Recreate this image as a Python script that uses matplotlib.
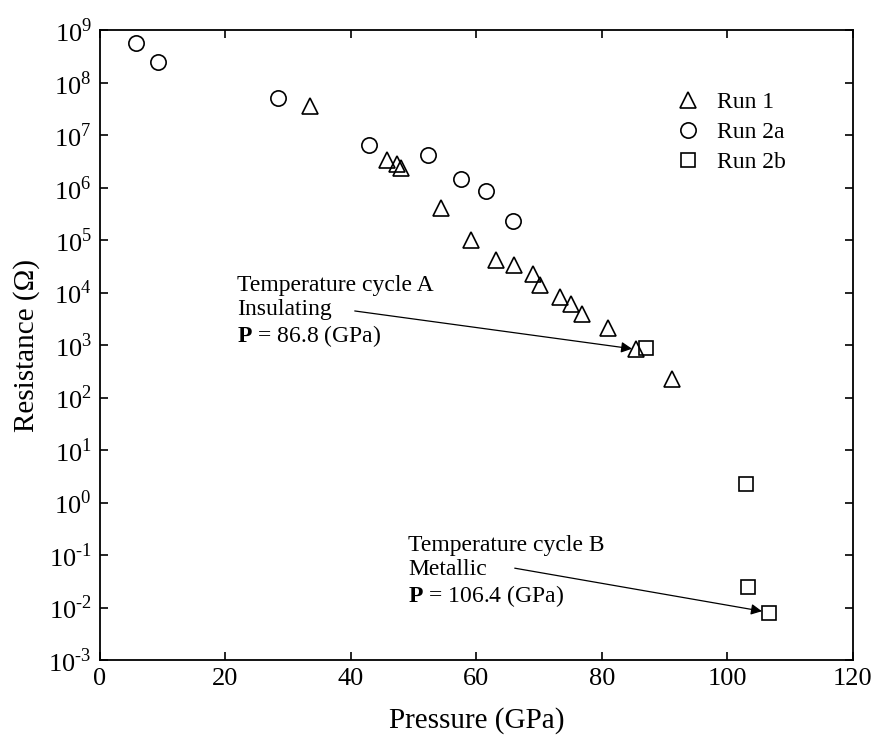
import matplotlib
matplotlib.use('Agg')
import matplotlib.pyplot as plt
from matplotlib.ticker import LogLocator, NullLocator, FuncFormatter
import numpy as np

plt.rcParams['font.family'] = ['Liberation Serif', 'DejaVu Serif']
plt.rcParams['mathtext.fontset'] = 'custom'
plt.rcParams['mathtext.rm'] = 'Liberation Serif'
plt.rcParams['mathtext.bf'] = 'Liberation Serif:bold'

# Run 1 (triangles)
run1_p = [33.4, 45.7, 47.3, 47.9, 54.3, 59.2, 63.1, 66.0, 69.0, 70.1,
          73.3, 75.0, 76.8, 81.0, 85.4, 91.2]
run1_logr = [7.56, 6.52, 6.45, 6.37, 5.62, 5.00, 4.62, 4.52, 4.35, 4.14,
             3.91, 3.79, 3.60, 3.32, 2.92, 2.35]

# Run 2a (circles)
run2a_p = [5.8, 9.2, 28.3, 42.9, 52.2, 57.6, 61.6, 65.9]
run2a_logr = [8.76, 8.40, 7.71, 6.82, 6.62, 6.16, 5.94, 5.36]

# Run 2b (squares)
run2b_p = [87.1, 102.9, 103.3, 106.6]
run2b_logr = [2.94, 0.35, -1.60, -2.11]

run1_r = [10 ** v for v in run1_logr]
run2a_r = [10 ** v for v in run2a_logr]
run2b_r = [10 ** v for v in run2b_logr]


def pow10(v, pos):
    e = int(round(np.log10(v)))
    s = str(abs(e))
    if e < 0:
        s = '\u2010' + s  # short hyphen like the original
    return '$10^{%s}$' % s


fig = plt.figure(figsize=(8.82, 7.35), dpi=100)
ax = fig.add_axes([0.1134, 0.102, 0.8536, 0.857])

mk = dict(linestyle='none', markerfacecolor='none', markeredgecolor='black',
          markeredgewidth=1.2)
ax.plot(run1_p, run1_r, marker='^', markersize=11, label='Run 1', **mk)
ax.plot(run2a_p, run2a_r, marker='o', markersize=11, label='Run 2a', **mk)
ax.plot(run2b_p, run2b_r, marker='s', markersize=10.5, label='Run 2b', **mk)

ax.set_yscale('log')
ax.set_xlim(0, 120)
ax.set_ylim(1e-3, 1e9)
ax.set_xticks([0, 20, 40, 60, 80, 100, 120])
ax.yaxis.set_major_locator(LogLocator(base=10, numticks=20))
ax.yaxis.set_minor_locator(NullLocator())
ax.yaxis.set_major_formatter(FuncFormatter(pow10))
ax.tick_params(which='both', direction='in', top=True, right=True,
               length=6, width=1.2, labelsize=19, pad=6)
for s in ax.spines.values():
    s.set_linewidth(1.3)

ax.set_xlabel('Pressure (GPa)', fontsize=21, labelpad=12)
ax.set_ylabel('Resistance (\u03a9)', fontsize=21)
ax.yaxis.set_label_coords(-0.08, 0.5)

ax.legend(loc='upper left', bbox_to_anchor=(0.75, 0.917), frameon=False,
          fontsize=17, handletextpad=0.6, labelspacing=0.35,
          handlelength=1.2, borderaxespad=0)

arrow = dict(arrowstyle='-|>', color='black', lw=0.9, mutation_scale=16,
             shrinkA=0, shrinkB=0)

ax.text(21.8, 10 ** 3.63, 'Temperature cycle A\nInsulating\n$\\mathbf{P}$ = 86.8 (GPa)',
        fontsize=17, linespacing=1.17, ha='left', va='center')
ax.annotate('', xy=(84.8, 10 ** 2.93), xytext=(40.6, 10 ** 3.65),
            arrowprops=arrow)

ax.text(49.1, 10 ** -1.32, 'Temperature cycle B\nMetallic\n$\\mathbf{P}$ = 106.4 (GPa)',
        fontsize=17, linespacing=1.17, ha='left', va='center')
ax.annotate('', xy=(105.5, 10 ** -2.07), xytext=(66.1, 10 ** -1.25),
            arrowprops=arrow)

fig.savefig('out.png', dpi=100)
